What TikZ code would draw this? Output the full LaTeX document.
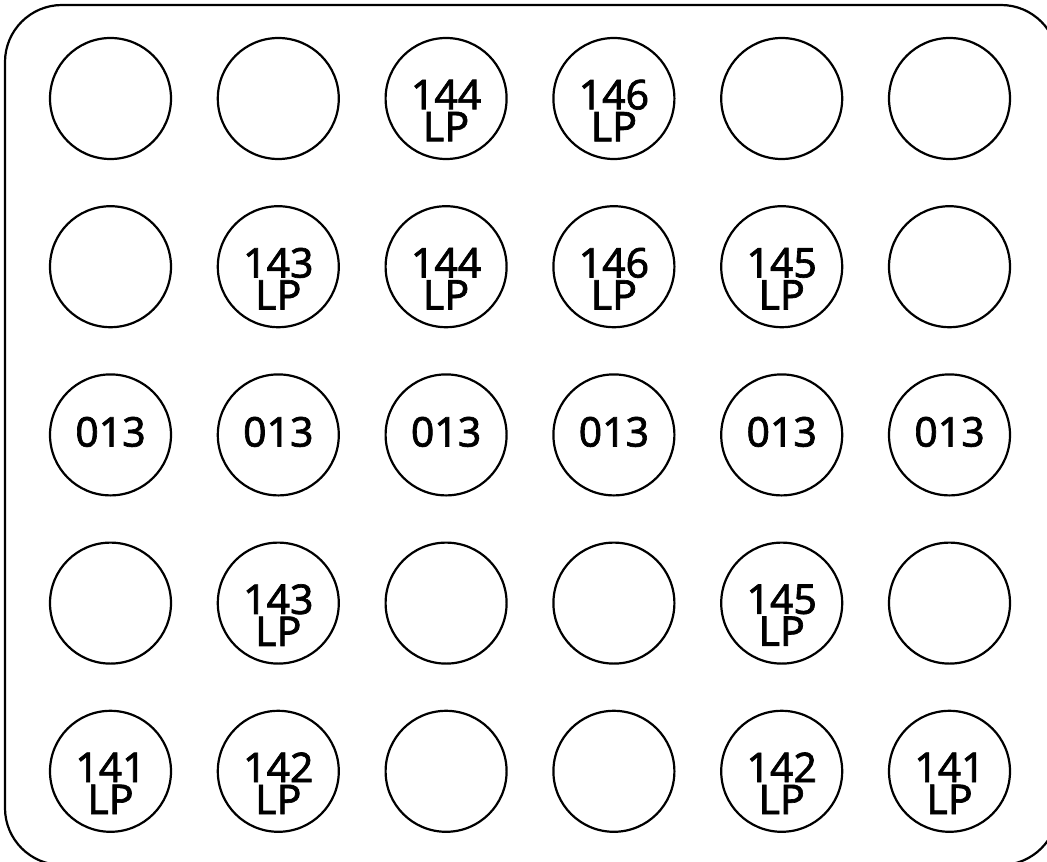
\documentclass[tikz,border=0pt]{standalone}
\usepackage{fontspec}
\setmainfont{Noto Sans}
\newfontfamily\tagfont{Noto Sans}[FakeBold=1.6]
\usetikzlibrary{positioning}

\begin{document}
\begin{tikzpicture}[
    x=1pt, y=-1pt,
    node distance=45pt and 44.6pt,
    well/.style={circle, draw, line width=2.2pt, minimum size=121pt,
                 inner sep=0pt},
    tag/.style={align=center, inner sep=0pt,
                font=\tagfont\fontsize{41}{32}\selectfont},
    code/.style={tag, yshift=-12pt},
]
\useasboundingbox (0,0) rectangle (1047,862);

% --- plate outline (runs past the right and bottom edge) ---
\draw[line width=2.2pt, rounded corners=57pt] (5,5) rectangle (1058,865);

% --- row 1 ---
\node[well] (w11) at (110.5,98.5) {};
\node[well, right=of w11] (w12) {};
\node[well, right=of w12] (w13) {};
\node[well, right=of w13] (w14) {};
\node[well, right=of w14] (w15) {};
\node[well, right=of w15] (w16) {};

% --- row 2 ---
\node[well, below=of w11] (w21) {};
\node[well, below=of w12] (w22) {};
\node[well, below=of w13] (w23) {};
\node[well, below=of w14] (w24) {};
\node[well, below=of w15] (w25) {};
\node[well, below=of w16] (w26) {};

% --- row 3 ---
\node[well, below=of w21] (w31) {};
\node[well, below=of w22] (w32) {};
\node[well, below=of w23] (w33) {};
\node[well, below=of w24] (w34) {};
\node[well, below=of w25] (w35) {};
\node[well, below=of w26] (w36) {};

% --- row 4 ---
\node[well, below=of w31] (w41) {};
\node[well, below=of w32] (w42) {};
\node[well, below=of w33] (w43) {};
\node[well, below=of w34] (w44) {};
\node[well, below=of w35] (w45) {};
\node[well, below=of w36] (w46) {};

% --- row 5 ---
\node[well, below=of w41] (w51) {};
\node[well, below=of w42] (w52) {};
\node[well, below=of w43] (w53) {};
\node[well, below=of w44] (w54) {};
\node[well, below=of w45] (w55) {};
\node[well, below=of w46] (w56) {};

% --- sample codes ---
\node[code] (t13) at (w13) {144\\LP};
\node[code] (t14) at (w14) {146\\LP};

\node[code] (t22) at (w22) {143\\LP};
\node[code] (t23) at (w23) {144\\LP};
\node[code] (t24) at (w24) {146\\LP};
\node[code] (t25) at (w25) {145\\LP};

\node[tag, yshift=3pt] (t31) at (w31) {013};
\node[tag, yshift=3pt] (t32) at (w32) {013};
\node[tag, yshift=3pt] (t33) at (w33) {013};
\node[tag, yshift=3pt] (t34) at (w34) {013};
\node[tag, yshift=3pt] (t35) at (w35) {013};
\node[tag, yshift=3pt] (t36) at (w36) {013};

\node[code] (t42) at (w42) {143\\LP};
\node[code] (t45) at (w45) {145\\LP};

\node[code] (t51) at (w51) {141\\LP};
\node[code] (t52) at (w52) {142\\LP};
\node[code] (t55) at (w55) {142\\LP};
\node[code] (t56) at (w56) {141\\LP};

\end{tikzpicture}
\end{document}
